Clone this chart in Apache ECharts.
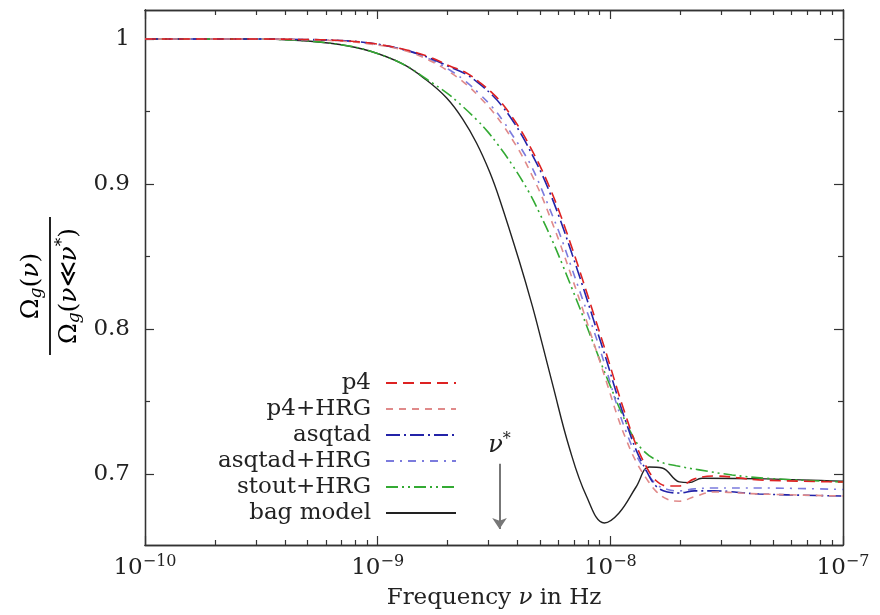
<!DOCTYPE html>
<html><head><meta charset="utf-8">
<script src="https://cdn.jsdelivr.net/npm/echarts@6/dist/echarts.min.js"></script>
<style>html,body{margin:0;padding:0;background:#fff}#c{width:880px;height:615px}</style>
</head><body><div id="c"></div>
<script>
// ---------- data ----------
const latticeNu = [1e-10, 2.82e-10, 4.62e-10, 6.87e-10, 9.25e-10, 1.28e-9, 1.67e-9, 2.04e-9, 2.41e-9, 2.74e-9,
  3.12e-9, 3.44e-9, 3.79e-9, 4.19e-9, 4.62e-9, 5.06e-9, 5.47e-9, 6.04e-9, 6.87e-9, 7.59e-9,
  8.53e-9, 9.62e-9, 1.07e-8, 1.17e-8, 1.29e-8, 1.43e-8, 1.57e-8, 1.76e-8, 1.98e-8, 2.30e-8,
  2.79e-8, 4.36e-8, 1e-7];
const p4 = [1.0, 1.0, 0.9997, 0.999, 0.9972, 0.9931, 0.9876, 0.9814, 0.9766, 0.9701,
  0.9625, 0.9552, 0.9460, 0.9352, 0.9228, 0.9103, 0.8981, 0.8807, 0.8552, 0.8343,
  0.8090, 0.7829, 0.7586, 0.7394, 0.7200, 0.7048, 0.6955, 0.6917, 0.6917, 0.6966,
  0.6986, 0.6959, 0.6945];
const p4HRG = [1.0, 1.0, 0.9997, 0.9986, 0.9966, 0.9924, 0.9852, 0.9772, 0.9686, 0.9600,
  0.9500, 0.9410, 0.9307, 0.9190, 0.9055, 0.8919, 0.8783, 0.8601, 0.8345, 0.8141,
  0.7893, 0.7636, 0.7404, 0.7237, 0.7085, 0.6968, 0.6882, 0.6825, 0.6812, 0.6843,
  0.6876, 0.6862, 0.6848];
const asqtad = [1.0, 1.0, 0.9997, 0.999, 0.9972, 0.9928, 0.9869, 0.9807, 0.9755, 0.9690,
  0.9610, 0.9534, 0.9441, 0.9328, 0.9200, 0.9074, 0.8948, 0.8769, 0.8510, 0.8301,
  0.8047, 0.7786, 0.7542, 0.7354, 0.7166, 0.7021, 0.6917, 0.6876, 0.6869, 0.6883,
  0.6883, 0.6862, 0.6848];
const asqtadHRG = [1.0, 1.0, 0.9997, 0.9988, 0.9969, 0.9931, 0.9862, 0.9786, 0.9703, 0.9621,
  0.9528, 0.9441, 0.9338, 0.9231, 0.9110, 0.8966, 0.8834, 0.8662, 0.8407, 0.8207,
  0.7979, 0.7717, 0.7469, 0.7290, 0.7131, 0.7014, 0.6931, 0.6893, 0.6883, 0.6897,
  0.6903, 0.6903, 0.6893];
const stoutNu = [1e-10, 2.82e-10, 4.62e-10, 6.87e-10, 9.25e-10, 1.28e-9, 1.62e-9, 1.98e-9, 2.20e-9, 2.66e-9,
  2.97e-9, 3.27e-9, 3.79e-9, 4.49e-9, 4.95e-9, 5.64e-9, 6.22e-9, 6.87e-9, 7.59e-9, 8.38e-9,
  9.91e-9, 1.21e-8, 1.37e-8, 1.62e-8, 1.92e-8, 2.41e-8, 3.34e-8, 4.68e-8, 1e-7];
const stoutHRG = [1.0, 1.0, 0.999, 0.9962, 0.9917, 0.9828, 0.9724, 0.9628, 0.9568, 0.9444,
  0.9361, 0.9276, 0.9131, 0.8938, 0.8803, 0.8607, 0.8445, 0.8272, 0.8097, 0.7917,
  0.7621, 0.7303, 0.7169, 0.7087, 0.7057, 0.7028, 0.6993, 0.697, 0.6945];
const bagNu = [1e-10, 2.82e-10, 4.62e-10, 6.87e-10, 9.25e-10, 1.28e-9, 1.62e-9, 1.98e-9, 2.32e-9, 2.66e-9,
  3.03e-9, 3.34e-9, 4.06e-9, 4.62e-9, 5.11e-9, 5.64e-9, 6.67e-9, 7.89e-9, 9.42e-9, 1.09e-8,
  1.29e-8, 1.47e-8, 1.67e-8, 1.98e-8, 2.18e-8, 2.48e-8, 4.68e-8, 1e-7];
const bagModel = [1.0, 1.0, 0.999, 0.9962, 0.9917, 0.9828, 0.9717, 0.9593, 0.9448, 0.9283,
  0.9083, 0.8897, 0.8469, 0.8159, 0.7890, 0.7621, 0.7179, 0.6848, 0.6662, 0.6731,
  0.6910, 0.7048, 0.7041, 0.6945, 0.694, 0.697, 0.6966, 0.695];
const nuStar = 3.34e-9;
const xMajorTicks = [1e-10, 1e-9, 1e-8, 1e-7];
const xMinorTicks = [2e-10, 3e-10, 4e-10, 5e-10, 6e-10, 7e-10, 8e-10, 9e-10,
  2e-9, 3e-9, 4e-9, 5e-9, 6e-9, 7e-9, 8e-9, 9e-9,
  2e-8, 3e-8, 4e-8, 5e-8, 6e-8, 7e-8, 8e-8, 9e-8];
const yMajorTicks = [0.7, 0.8, 0.9, 1.0];
const yMinorTicks = [0.75, 0.85, 0.95];

// ---------- chart ----------
const FONT = 'DejaVu Serif';
const AX = '#333';
const chart = echarts.init(document.getElementById('c'));

function mk(name, nu, vals, color, dash, width, z) {
  return {
    name, type: 'line', xAxisIndex: 0, yAxisIndex: 0, z,
    data: nu.map((x, i) => [x, vals[i]]),
    symbol: 'none', showSymbol: false, smooth: 0.4,
    lineStyle: { color, width, type: dash },
    itemStyle: { color }
  };
}

function xAxisDef(pos, ticks, len, labels) {
  return {
    type: 'log', logBase: 10, min: 1e-10, max: 1e-7, position: pos,
    axisLine: { show: true, onZero: false, lineStyle: { color: AX, width: 1.3 } },
    axisTick: { show: true, inside: true, length: len, customValues: ticks, lineStyle: { color: AX, width: 1.2 } },
    axisLabel: labels ? {
      show: true, customValues: xMajorTicks, margin: 9,
      formatter: v => '{b|10}{s|\u2212' + Math.round(-Math.log10(v)) + '}',
      rich: {
        b: { fontFamily: FONT, fontSize: 23, color: '#222' },
        s: { fontFamily: FONT, fontSize: 16, color: '#222', padding: [0, 0, 13, 0] }
      }
    } : { show: false },
    splitLine: { show: false }, minorTick: { show: false }
  };
}
function yAxisDef(pos, ticks, len, labels) {
  return {
    type: 'value', min: 0.651, max: 1.02, position: pos,
    axisLine: { show: true, onZero: false, lineStyle: { color: AX, width: 1.3 } },
    axisTick: { show: true, inside: true, length: len, customValues: ticks, lineStyle: { color: AX, width: 1.2 } },
    axisLabel: labels ? {
      show: true, customValues: yMajorTicks, margin: 15,
      fontFamily: FONT, fontSize: 23, color: '#222',
      formatter: v => (Math.abs(v - 1) < 1e-9 ? '1' : v.toFixed(1))
    } : { show: false },
    splitLine: { show: false }
  };
}

const xa = xAxisDef('bottom', xMajorTicks, 9, true);
xa.name = '{r|Frequency }{i|\u03bd}{r| in Hz}';
xa.nameLocation = 'middle';
xa.nameGap = 42;
xa.nameTextStyle = {
  rich: {
    r: { fontFamily: FONT, fontSize: 23, color: '#222' },
    i: { fontFamily: FONT, fontSize: 23, color: '#222', fontStyle: 'italic' }
  }
};

const richFrac = {
  n: { fontFamily: FONT, fontSize: 25, color: '#222' },
  i: { fontFamily: FONT, fontSize: 25, color: '#222', fontStyle: 'italic' },
  sub: { fontFamily: FONT, fontSize: 17, color: '#222', fontStyle: 'italic', padding: [12, 0, 0, 0] },
  sup: { fontFamily: FONT, fontSize: 17, color: '#222', padding: [0, 0, 12, 0] }
};

const option = {
  animation: false,
  backgroundColor: '#fff',
  grid: { left: 145, right: 37, top: 10, bottom: 70, containLabel: false },
  xAxis: [
    xa,
    xAxisDef('bottom', xMinorTicks, 5, false),
    xAxisDef('top', xMajorTicks, 9, false),
    xAxisDef('top', xMinorTicks, 5, false)
  ],
  yAxis: [
    yAxisDef('left', yMajorTicks, 9, true),
    yAxisDef('left', yMinorTicks, 5, false),
    yAxisDef('right', yMajorTicks, 9, false),
    yAxisDef('right', yMinorTicks, 5, false)
  ],
  legend: {
    orient: 'vertical', align: 'right', right: 423, top: 370, padding: 0, itemGap: 0,
    itemWidth: 70, itemHeight: 14,
    itemStyle: { opacity: 0 },
    textStyle: { fontFamily: FONT, fontSize: 23, color: '#222', lineHeight: 26, padding: [0, 10, 0, 0] },
    data: ['p4', 'p4+HRG', 'asqtad', 'asqtad+HRG', 'stout+HRG', 'bag model']
  },
  series: [
    mk('bag model', bagNu, bagModel, '#222222', 'solid', 1.4, 2),
    mk('stout+HRG', stoutNu, stoutHRG, '#33aa33', [12, 4, 2, 4, 2, 4], 1.6, 3),
    mk('asqtad+HRG', latticeNu, asqtadHRG, '#7b7bdd', [8, 6, 2, 6], 1.6, 4),
    mk('asqtad', latticeNu, asqtad, '#2323a8', [14, 4, 2, 4], 1.6, 5),
    mk('p4+HRG', latticeNu, p4HRG, '#e08a8a', [7, 6], 1.6, 6),
    mk('p4', latticeNu, p4, '#dd2222', [11, 6], 1.6, 7)
  ],
  graphic: [{
    type: 'group', x: 50, y: 286, rotation: Math.PI / 2,
    children: [
      { type: 'text', x: 0, y: -19, style: { text: '{n|\u03a9}{sub|g}{n|(}{i|\u03bd}{n|)}', rich: richFrac, align: 'center', verticalAlign: 'middle' } },
      { type: 'line', shape: { x1: -69, y1: 0, x2: 69, y2: 0 }, style: { stroke: '#222', lineWidth: 2 } },
      { type: 'text', x: 0, y: 19, style: { text: '{n|\u03a9}{sub|g}{n|(}{i|\u03bd}{n|\u226a}{i|\u03bd}{sup|*}{n|)}', rich: richFrac, align: 'center', verticalAlign: 'middle' } }
    ]
  }]
};
// nu* arrow annotation through the axis scales
option.series[0].markLine = {
  silent: true, symbol: ['none', 'arrow'], symbolSize: 11,
  lineStyle: { color: '#777', width: 2, type: 'solid' },
  label: {
    show: true, position: 'start', distance: 4, formatter: '{i|\u03bd}{s|*}',
    rich: {
      i: { fontFamily: FONT, fontSize: 24, color: '#222', fontStyle: 'italic' },
      s: { fontFamily: FONT, fontSize: 16, color: '#222', padding: [0, 0, 12, 0] }
    }
  },
  data: [[{ coord: [nuStar, 0.707] }, { coord: [nuStar, 0.662] }]]
};
chart.setOption(option);
</script></body></html>
